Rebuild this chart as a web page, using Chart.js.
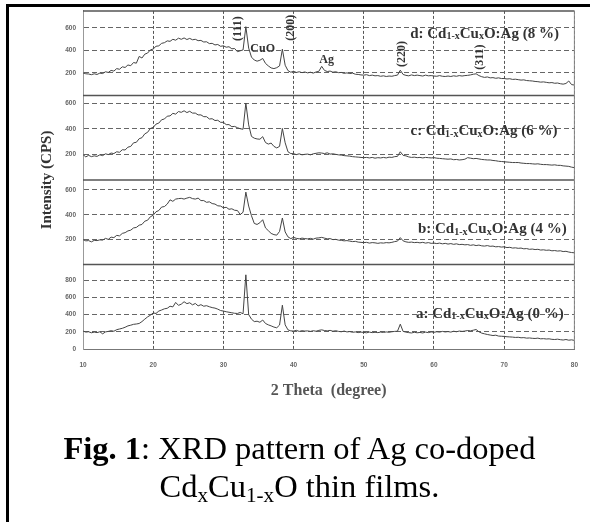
<!DOCTYPE html>
<html>
<head>
<meta charset="utf-8">
<script src="https://cdn.jsdelivr.net/npm/chart.js@4.4.1/dist/chart.umd.min.js"></script>
<style>
  html, body { margin: 0; padding: 0; background: #fff; }
  #page { position: relative; width: 590px; height: 522px; overflow: hidden; background: #fff; }
  #xrd { position: absolute; left: 0; top: 0; }
  #frame { position: absolute; left: 6px; top: 4px; width: 600px; height: 530px; border-top: 3px solid #000; border-left: 3px solid #000; pointer-events: none; }
  #caption { position: absolute; left: 9px; top: 429px; width: 581px; text-align: center; font-family: "Liberation Serif", "Times New Roman", serif; font-size: 32.5px; line-height: 38px; color: #000; }
  #caption sub { font-size: 0.65em; line-height: 0; vertical-align: -0.25em; }
</style>
</head>
<body>
<div id="page">
  <canvas id="xrd" width="590" height="410"></canvas>
  <div id="frame"></div>
  <div id="caption"><b>Fig. 1</b>: XRD pattern of Ag co-doped<br>Cd<sub>x</sub>Cu<sub>1-x</sub>O thin films.</div>
</div>
<script>
// 2 theta grid: 10 .. 80 deg, one reading every 0.4 deg
var thetaStart = 10;
var thetaStep = 0.4;

// intensity (CPS), rows of 5 = 2 degrees
var seriesD = [ // 8 %
  200, 192, 190, 184, 192,  186, 198, 194, 210, 204,  222, 216, 238, 232, 254,  248, 270, 264, 292, 286,
  346, 332, 366, 376, 404,  412, 436, 440, 462, 468,  484, 480, 498, 490, 508,  498, 510, 496, 506, 494,
  498, 486, 488, 474, 476,  460, 462, 448, 452, 436,  440, 428, 432, 414, 416,  388, 396, 404, 610, 420,
  340, 314, 304, 312, 328,  284, 262, 244, 238, 246,  262, 410, 268, 220, 206,  214, 204, 210, 202, 208,
  200, 206, 198, 208, 214,  258, 222, 212, 216, 206,  210, 202, 204, 196, 200,  194, 198, 188, 186, 182,
  180, 184, 176, 180, 174,  176, 170, 174, 168, 172,  170, 176, 180, 224, 186,  178, 174, 182, 176, 180,
  176, 172, 180, 174, 176,  172, 170, 176, 170, 168,  172, 168, 174, 170, 176,  172, 176, 178, 182, 188,
  192, 176, 166, 160, 164,  156, 158, 152, 156, 150,  150, 146, 148, 142, 144,  140, 136, 138, 132, 130,
  128, 124, 122, 118, 120,  116, 112, 114, 108, 110,  104, 100, 106, 128, 96,
  92
];
var seriesC = [ // 6 %
  198, 180, 192, 182, 188,  184, 196, 190, 204, 198,  210, 206, 220, 216, 236,  234, 256, 262, 290, 294,
  322, 330, 360, 372, 402,  410, 436, 444, 470, 476,  498, 500, 520, 514, 534,  528, 540, 526, 536, 522,
  522, 508, 508, 494, 494,  476, 478, 464, 466, 450,  450, 432, 432, 416, 418,  408, 400, 396, 600, 430,
  340, 326, 320, 318, 338,  292, 280, 288, 262, 250,  262, 402, 290, 220, 206,  205, 198, 204, 196, 200,
  202, 196, 204, 208, 212,  210, 206, 212, 202, 204,  200, 196, 194, 190, 188,  186, 182, 180, 178, 176,
  174, 176, 172, 176, 170,  174, 172, 176, 172, 178,  176, 182, 184, 220, 192,  188, 180, 176, 178, 174,
  176, 172, 176, 174, 172,  174, 170, 168, 166, 164,  162, 164, 158, 160, 156,  158, 162, 174, 170, 166,
  168, 164, 160, 158, 156,  156, 152, 150, 146, 144,  142, 140, 138, 136, 136,  136, 132, 130, 128, 128,
  126, 124, 126, 122, 120,  120, 118, 116, 118, 114,  114, 110, 108, 106, 100,
  96
];
var seriesB = [ // 4 %
  200, 190, 192, 182, 194,  192, 198, 196, 210, 202,  220, 216, 234, 230, 250,  256, 270, 276, 294, 298,
  316, 322, 348, 356, 384,  396, 424, 434, 462, 466,  486, 520, 508, 526, 530,  532, 526, 534, 540, 530,
  526, 534, 514, 514, 500,  504, 490, 486, 472, 470,  456, 460, 444, 448, 436,  434, 402, 420, 582, 470,
  392, 330, 322, 336, 360,  294, 272, 250, 240, 236,  266, 374, 262, 222, 208,  218, 210, 206, 212, 208,
  206, 210, 204, 212, 214,  218, 212, 206, 208, 200,  202, 196, 194, 190, 192,  188, 184, 186, 180, 178,
  176, 178, 172, 176, 174,  170, 174, 172, 176, 174,  178, 184, 188, 216, 190,  182, 178, 180, 176, 178,
  174, 178, 172, 176, 170,  172, 168, 172, 166, 170,  164, 168, 162, 166, 160,  162, 158, 160, 154, 158,
  152, 156, 150, 148, 152,  146, 148, 142, 144, 140,  142, 136, 138, 132, 134,  130, 132, 126, 128, 122,
  124, 120, 122, 116, 118,  114, 116, 110, 112, 108,  110, 104, 106, 100, 96,
  94
];
var seriesA = [ // 0 %
  208, 196, 200, 188, 196,  190, 200, 176, 198, 204,  212, 206, 224, 232, 240,  252, 268, 276, 286, 290,
  296, 318, 346, 372, 392,  418, 412, 440, 452, 466,  472, 496, 488, 540, 506,  520, 548, 526, 536, 512,
  528, 500, 514, 496, 502,  490, 480, 474, 462, 446,  440, 432, 426, 420, 414,  412, 424, 408, 860, 400,
  346, 318, 322, 310, 336,  296, 280, 268, 254, 246,  278, 508, 280, 222, 210,  208, 216, 204, 212, 208,
  210, 204, 212, 206, 216,  222, 214, 210, 216, 206,  212, 204, 200, 208, 198,  202, 194, 198, 190, 196,
  192, 188, 196, 190, 194,  190, 196, 192, 198, 194,  200, 204, 206, 288, 204,  196, 190, 186, 194, 188,
  192, 186, 196, 190, 198,  194, 200, 196, 204, 198,  202, 196, 206, 200, 208,  204, 208, 214, 210, 218,
  226, 200, 184, 176, 168,  162, 156, 160, 150, 148,  146, 142, 140, 138, 134,  136, 130, 132, 126, 128,
  124, 122, 126, 118, 120,  116, 118, 112, 110, 114,  108, 104, 110, 102, 106,
  100
];

var xTicks = [10, 20, 30, 40, 50, 60, 70, 80];
var ticksD = [200, 400, 600];
var ticksC = [200, 400, 600];
var ticksB = [200, 400, 600];
var ticksA = [0, 200, 400, 600, 800];
var sampleLetters = ['d', 'c', 'b', 'a'];
var agPercent = ['8 %', '6 %', '4 %', '0 %'];
var peakNames = ['(111)', 'CuO', '(200)', 'Ag', '(220)', '(311)'];

// panels, listed top to bottom
var panelIds = ['yD', 'yC', 'yB', 'yA'];
var panelMax = [750, 660, 680, 980];
var panelTicks = [ticksD, ticksC, ticksB, ticksA];
var panelSeries = [seriesD, seriesC, seriesB, seriesA];

// where the labels sit (theta, value on the panel axis)
var sampleLabelPos = [[77.8, 547], [77.6, 379], [78.9, 283], [78.5, 408]];
var peakLabelPos = [[32.0, 593, true], [35.6, 410, false], [39.6, 600, true], [44.7, 313, false], [55.4, 368, true], [66.5, 340, true]];

function toPoints(values) {
  return values.map(function (v, i) {
    return { x: +(thetaStart + i * thetaStep).toFixed(1), y: v };
  });
}

var serif = '"Liberation Serif", "Times New Roman", serif';
var tickFont = { family: '"Liberation Sans", Arial, sans-serif', size: 6.5, weight: 'bold' };

var scales = {
  x: {
    type: 'linear', min: 10, max: 80,
    afterBuildTicks: function (s) { s.ticks = xTicks.map(function (v) { return { value: v }; }); },
    afterFit: function (s) { s.height = 61; },
    grid: { color: '#555', lineWidth: 1, drawTicks: false },
    border: { display: true, color: '#777', dash: [3, 2] },
    ticks: { font: tickFont, color: '#666', padding: 12, maxRotation: 0 },
    title: { display: true, text: '2 Theta  (degree)', color: '#555', font: { family: serif, size: 16, weight: 'bold' }, padding: { top: 0, bottom: 10 } }
  }
};
// stacked axes are laid out bottom-up, so add them from the bottom panel
panelIds.slice().reverse().forEach(function (id) {
  var k = panelIds.indexOf(id);
  scales[id] = {
    type: 'linear', position: 'left', stack: 'xrd', stackWeight: 1,
    min: 0, max: panelMax[k],
    afterBuildTicks: function (s) { s.ticks = panelTicks[k].map(function (v) { return { value: v }; }); },
    afterFit: function (s) { s.width = 83; },
    grid: { color: '#666', lineWidth: 1, drawTicks: false },
    border: { display: true, color: '#999', dash: [5, 3] },
    ticks: { font: tickFont, color: '#666', padding: 7 }
  };
});

function drawRich(ctx, parts, xRight, y) {
  var big = 'bold 15px ' + serif, small = 'bold 10px ' + serif;
  var w = 0;
  parts.forEach(function (p) { ctx.font = p[1] ? small : big; w += ctx.measureText(p[0]).width; });
  var cx = xRight - w;
  parts.forEach(function (p) {
    ctx.font = p[1] ? small : big;
    ctx.fillText(p[0], cx, p[1] ? y + 3 : y);
    cx += ctx.measureText(p[0]).width;
  });
}

var xrdDecor = {
  id: 'xrdDecor',
  afterDatasetsDraw: function (chart) {
    var ctx = chart.ctx, ca = chart.chartArea, sc = chart.scales;
    ctx.save();
    // panel separators and right edge
    ctx.strokeStyle = '#555';
    ctx.lineWidth = 1.5;
    panelIds.forEach(function (id) {
      ctx.beginPath();
      ctx.moveTo(ca.left, sc[id].top);
      ctx.lineTo(ca.right, sc[id].top);
      ctx.stroke();
    });
    ctx.strokeStyle = '#888';
    ctx.lineWidth = 1;
    ctx.beginPath();
    ctx.moveTo(ca.right, ca.top);
    ctx.lineTo(ca.right, ca.bottom);
    ctx.stroke();

    // y title
    ctx.fillStyle = '#333';
    ctx.textAlign = 'center';
    ctx.textBaseline = 'middle';
    ctx.save();
    ctx.translate(47, (ca.top + ca.bottom) / 2);
    ctx.rotate(-Math.PI / 2);
    ctx.font = 'bold 15px ' + serif;
    ctx.fillText('Intensity (CPS)', 0, 0);
    ctx.restore();

    // peak labels on the top panel
    peakNames.forEach(function (name, i) {
      var p = peakLabelPos[i];
      var px = sc.x.getPixelForValue(p[0]), py = sc.yD.getPixelForValue(p[1]);
      ctx.save();
      ctx.translate(px, py);
      if (p[2]) ctx.rotate(-Math.PI / 2);
      ctx.font = 'bold 12px ' + serif;
      ctx.fillText(name, 0, 0);
      ctx.restore();
    });

    // sample labels
    ctx.textAlign = 'left';
    sampleLetters.forEach(function (letter, k) {
      var pos = sampleLabelPos[k];
      var px = sc.x.getPixelForValue(pos[0]), py = sc[panelIds[k]].getPixelForValue(pos[1]);
      drawRich(ctx, [[letter + ': Cd', false], ['1-x', true], ['Cu', false], ['x', true], ['O:Ag (' + agPercent[k] + ')', false]], px, py);
    });
    ctx.restore();
  }
};

new Chart(document.getElementById('xrd'), {
  type: 'line',
  data: {
    datasets: panelIds.map(function (id, k) {
      return {
        label: sampleLetters[k] + ' (' + agPercent[k] + ')',
        data: toPoints(panelSeries[k]),
        yAxisID: id,
        borderColor: '#444',
        borderWidth: 1,
        pointRadius: 0,
        tension: 0,
        fill: false
      };
    })
  },
  options: {
    responsive: false,
    animation: false,
    layout: { padding: { top: 8, right: 13, left: 0, bottom: 0 } },
    plugins: { legend: { display: false }, tooltip: { enabled: false } },
    scales: scales
  },
  plugins: [xrdDecor]
});
</script>
</body>
</html>
